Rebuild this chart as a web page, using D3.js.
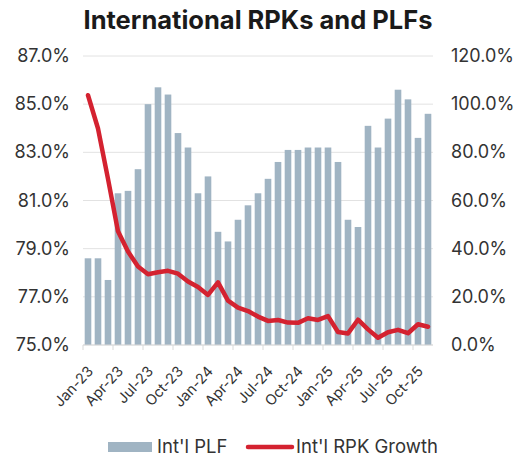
<!DOCTYPE html>
<html>
<head>
<meta charset="utf-8">
<script src="https://cdn.jsdelivr.net/npm/d3@7"></script>
<style>
  body { margin: 0; background: #fff; }
  svg { display: block; font-family: Inter, 'Open Sans', sans-serif; }
</style>
</head>
<body>
<div id="chart"></div>
<script>
const months = [
  'Jan-23', 'Feb-23', 'Mar-23', 'Apr-23', 'May-23', 'Jun-23', 'Jul-23', 'Aug-23', 'Sep-23', 'Oct-23', 'Nov-23', 'Dec-23',
  'Jan-24', 'Feb-24', 'Mar-24', 'Apr-24', 'May-24', 'Jun-24', 'Jul-24', 'Aug-24', 'Sep-24', 'Oct-24', 'Nov-24', 'Dec-24',
  'Jan-25', 'Feb-25', 'Mar-25', 'Apr-25', 'May-25', 'Jun-25', 'Jul-25', 'Aug-25', 'Sep-25', 'Oct-25', 'Nov-25'
];

// Int'l passenger load factor, %
const plf = [
  78.6, 78.6, 77.7, 81.3, 81.4, 82.3, 85.0, 85.7, 85.4, 83.8, 83.2, 81.3,
  82.0, 79.7, 79.3, 80.2, 80.8, 81.3, 81.9, 82.6, 83.1, 83.1, 83.2, 83.2,
  83.2, 82.6, 80.2, 79.9, 84.1, 83.2, 84.4, 85.6, 85.2, 83.6, 84.6
];

// Int'l RPK growth, % year on year
const rpkGrowth = [
  103.7, 89.9, 69.0, 47.2, 38.8, 32.6, 29.4, 30.2, 30.8, 29.6, 26.4, 24.1,
  20.8, 26.0, 18.4, 15.5, 14.1, 11.8, 10.0, 10.4, 9.3, 9.2, 11.1, 10.4,
  12.0, 5.4, 4.8, 10.5, 6.5, 3.0, 5.3, 6.3, 4.9, 8.6, 7.6
];

const leftTicks = [75, 77, 79, 81, 83, 85, 87];
const rightTicks = [0, 20, 40, 60, 80, 100, 120];
const tickLabels = ['Jan-23', 'Apr-23', 'Jul-23', 'Oct-23', 'Jan-24', 'Apr-24', 'Jul-24', 'Oct-24', 'Jan-25', 'Apr-25', 'Jul-25', 'Oct-25'];

const seriesNames = ["Int'l PLF", "Int'l RPK Growth"];

const width = 524;
const height = 459;
const margin = { top: 56, right: 91, bottom: 114, left: 83 };

const barColor = '#a0b4c3';
const lineColor = '#d42230';
const gridColor = '#e2e2e2';
const textColor = '#333';

const svg = d3.select('#chart')
  .append('svg')
  .attr('width', width)
  .attr('height', height);

const x = d3.scaleBand()
  .domain(months)
  .range([margin.left, width - margin.right])
  .paddingInner(0.34)
  .paddingOuter(0.17);

const yLeft = d3.scaleLinear()
  .domain([75, 87])
  .range([height - margin.bottom, margin.top]);

const yRight = d3.scaleLinear()
  .domain([0, 120])
  .range([height - margin.bottom, margin.top]);

// title
svg.append('text')
  .attr('x', 258)
  .attr('y', 29)
  .attr('text-anchor', 'middle')
  .attr('font-size', 25.5)
  .attr('font-weight', 700)
  .attr('fill', '#1a1a1a')
  .text('International RPKs and PLFs');

// gridlines
svg.append('g')
  .selectAll('line')
  .data(leftTicks)
  .enter()
  .append('line')
  .attr('x1', margin.left)
  .attr('x2', width - margin.right)
  .attr('y1', d => yLeft(d))
  .attr('y2', d => yLeft(d))
  .attr('stroke', gridColor)
  .attr('stroke-width', 1);

// bars
svg.append('g')
  .selectAll('rect')
  .data(plf)
  .enter()
  .append('rect')
  .attr('x', (d, i) => x(months[i]))
  .attr('width', x.bandwidth())
  .attr('y', d => yLeft(d))
  .attr('height', d => yLeft(75) - yLeft(d))
  .attr('fill', barColor);

// x axis: baseline, ticks between category groups, rotated labels
const xAxis = svg.append('g')
  .attr('transform', `translate(0,${height - margin.bottom})`);

xAxis.append('line')
  .attr('x1', margin.left)
  .attr('x2', width - margin.right)
  .attr('stroke', '#d9d9d9');

const step = x.step();

xAxis.selectAll('.tick')
  .data(tickLabels)
  .enter()
  .append('line')
  .attr('class', 'tick')
  .attr('x1', d => x(d) - x.paddingInner() * step / 2)
  .attr('x2', d => x(d) - x.paddingInner() * step / 2)
  .attr('y1', 0)
  .attr('y2', 5)
  .attr('stroke', '#d9d9d9');

xAxis.selectAll('text')
  .data(tickLabels)
  .enter()
  .append('text')
  .attr('transform', d => `translate(${x(d) + x.bandwidth() / 2 + 6},${27}) rotate(-47)`)
  .attr('text-anchor', 'end')
  .attr('font-size', 14.5)
  .attr('fill', textColor)
  .text(d => d);

// left axis labels
svg.append('g')
  .selectAll('text')
  .data(leftTicks)
  .enter()
  .append('text')
  .attr('x', 70)
  .attr('y', d => yLeft(d) + 6)
  .attr('text-anchor', 'end')
  .attr('font-size', 18)
  .attr('fill', textColor)
  .text(d => d3.format('.1f')(d) + '%');

// right axis labels
svg.append('g')
  .selectAll('text')
  .data(rightTicks)
  .enter()
  .append('text')
  .attr('x', 451)
  .attr('y', d => yRight(d) + 6)
  .attr('text-anchor', 'start')
  .attr('font-size', 18)
  .attr('fill', textColor)
  .text(d => d3.format('.1f')(d) + '%');

// RPK growth line
const line = d3.line()
  .x((d, i) => x(months[i]) + x.bandwidth() / 2)
  .y(d => yRight(d));

svg.append('path')
  .datum(rpkGrowth)
  .attr('d', line)
  .attr('fill', 'none')
  .attr('stroke', lineColor)
  .attr('stroke-width', 4.5)
  .attr('stroke-linejoin', 'round')
  .attr('stroke-linecap', 'round');

// legend
const legend = svg.append('g')
  .attr('class', 'legend');

legend.append('rect')
  .attr('x', 108)
  .attr('y', 442)
  .attr('width', 44)
  .attr('height', 10)
  .attr('fill', barColor);

legend.append('text')
  .attr('x', 157)
  .attr('y', 453)
  .attr('font-size', 18.5)
  .attr('fill', textColor)
  .text(seriesNames[0]);

legend.append('line')
  .attr('x1', 248)
  .attr('x2', 292)
  .attr('y1', 447)
  .attr('y2', 447)
  .attr('stroke', lineColor)
  .attr('stroke-width', 4.5)
  .attr('stroke-linecap', 'round');

legend.append('text')
  .attr('x', 296)
  .attr('y', 453)
  .attr('font-size', 18.5)
  .attr('fill', textColor)
  .text(seriesNames[1]);
</script>
</body>
</html>
